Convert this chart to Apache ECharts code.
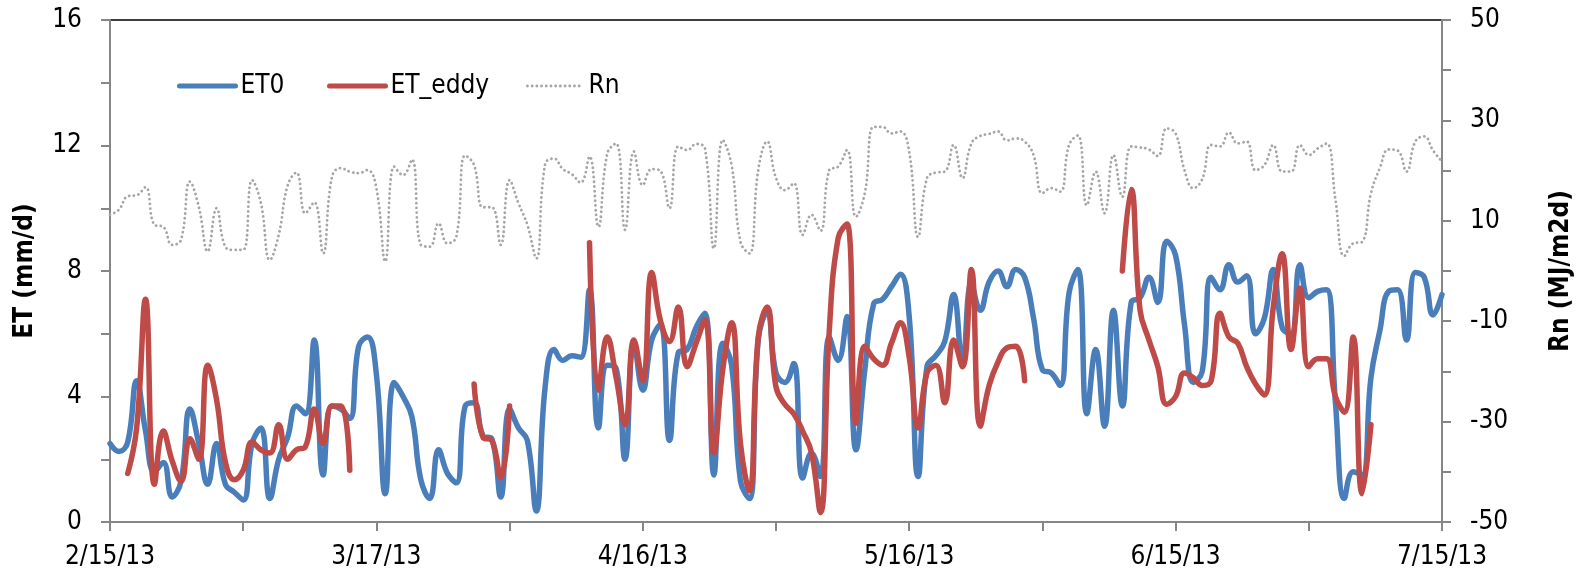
<!DOCTYPE html>
<html>
<head>
<meta charset="utf-8">
<script src="https://cdn.jsdelivr.net/npm/echarts@6/dist/echarts.min.js"></script>
<style>
html,body{margin:0;padding:0;background:#fff;}
#chart{width:1583px;height:575px;}
</style>
</head>
<body>
<div id="chart"></div>
<script>
// Daily dates from 2/15/13 to 7/15/13
const startDate = new Date(2013, 1, 15);
const dates = [];
for (let i = 0; i <= 150; i++) {
  const d = new Date(startDate.getFullYear(), startDate.getMonth(), startDate.getDate() + i);
  dates.push((d.getMonth() + 1) + '/' + d.getDate() + '/13');
}

const et0 = [
  2.5, 2.25, 2.55, 4.5, 2.9, 1.6, 1.9, 0.8, 1.3, 3.6,
  2.5, 1.2, 2.5, 1.2, 0.95, 0.7, 2.5, 3.0, 0.75, 2.0,
  2.7, 3.7, 3.45, 5.8, 1.5, 3.7, 3.6, 3.3, 5.6, 5.9,
  4.7, 0.9, 4.45, 4.0, 3.35, 1.35, 0.75, 2.3, 1.55, 1.25,
  3.7, 3.8, 2.75, 2.65, 0.8, 3.6, 3.0, 2.6, 0.35, 4.3,
  5.5, 5.15, 5.3, 5.25, 7.4, 3.0, 5.0, 4.9, 2.0, 5.75,
  4.2, 5.8, 6.3, 2.6, 5.4, 5.5, 6.2, 6.65, 1.5, 5.7,
  5.0, 1.3, 0.75, 5.8, 6.7, 4.75, 4.45, 5.05, 1.4, 2.2,
  1.45, 5.9, 5.15, 6.55, 2.3, 4.85, 6.95, 7.1, 7.5, 7.9,
  6.55, 1.45, 4.95, 5.3, 5.75, 7.25, 5.05, 7.6, 6.75, 7.65,
  8.0, 7.5, 8.05, 7.8, 6.5, 4.85, 4.75, 4.35, 7.3, 8.05,
  3.45, 5.5, 3.05, 6.75, 3.7, 7.0, 7.15, 7.8, 7.0, 8.95,
  8.5, 6.3, 4.45, 4.8, 7.8, 7.4, 8.2, 7.65, 7.85, 6.0,
  6.5, 8.05, 6.2, 6.0, 8.2, 7.15, 7.35, 7.4, 3.8, 0.75,
  1.6, 1.5, 4.6, 6.1, 7.35, 7.4, 5.8, 7.95, 7.8, 6.6,
  7.25
];

const etEddy = [
  null, null, 1.55, 3.0, 7.1, 1.2, 2.9, 1.95, 1.3, 2.65,
  2.0, 5.0, 3.9, 1.9, 1.35, 1.65, 2.55, 2.3, 2.2, 3.1,
  2.0, 2.3, 2.4, 3.6, 2.5, 3.7, 3.7, 1.65, null, null,
  null, null, null, null, null, null, null, null, null, null,
  null, 4.4, 2.7, 2.6, 1.4, 3.7, null, null, null, null,
  null, null, null, null, 8.9, 4.2, 5.9, 4.6, 3.1, 5.8,
  4.5, 7.95, 6.4, 5.75, 6.85, 4.95, 5.7, 6.45, 2.2, 4.85,
  6.35, 2.5, 1.0, 5.9, 6.85, 4.3, 3.75, 3.45, 2.9, 2.2,
  0.3, 6.1, 9.05, 9.5, 3.15, 5.6, 5.2, 5.0, 5.7, 6.35,
  5.25, 3.0, 4.75, 5.0, 3.8, 5.8, 4.95, 8.05, 3.05, 4.35,
  5.1, 5.55, 5.6, 4.5, null, null, null, null, null, null,
  null, null, null, null, 8.0, 10.6, 6.75, 5.8, 4.95, 3.75,
  4.0, 4.75, 4.6, 4.35, 4.5, 6.65, 5.9, 5.7, 4.95, 4.4,
  4.05, 6.85, 8.55, 5.5, 7.45, 4.95, 5.2, 5.2, 4.0, 3.5,
  5.9, 0.9, 3.1, null, null, null, null, null, null, null,
  null
];

const rn = [
  11.2, 12.2, 14.9, 15.1, 16.7, 9.2, 8.8, 5.2, 6.2, 17.8,
  12.8, 3.9, 12.5, 4.8, 4.2, 4.2, 18.1, 13.5, 2.2, 7.2,
  17.0, 19.6, 11.5, 13.7, 3.5, 18.8, 20.5, 19.8, 19.5, 20.1,
  16.5, 1.9, 20.8, 19.1, 22.2, 5.2, 4.85, 9.5, 5.5, 6.8,
  23.0, 21.1, 12.7, 12.7, 5.2, 18.1, 13.5, 9.2, 2.5, 21.3,
  22.4, 20.3, 19.3, 17.6, 22.8, 8.8, 23.4, 25.4, 8.2, 23.8,
  17.1, 20.3, 19.9, 12.5, 24.8, 24.1, 25.3, 24.4, 4.5, 26.1,
  21.1, 5.8, 3.5, 20.1, 25.8, 18.5, 16.1, 17.5, 7.2, 11.2,
  8.0, 20.1, 20.8, 24.1, 10.8, 15.5, 28.7, 28.7, 27.4, 27.8,
  23.8, 6.8, 18.5, 19.6, 19.8, 25.1, 18.5, 25.4, 26.9, 27.3,
  27.8, 26.0, 26.4, 25.8, 23.1, 15.5, 16.5, 15.8, 25.1, 27.0,
  13.1, 19.8, 11.5, 23.1, 14.8, 24.8, 24.6, 24.2, 22.9, 28.4,
  27.4, 20.1, 16.5, 18.3, 25.1, 24.8, 27.6, 25.4, 25.8, 20.1,
  21.1, 25.1, 19.8, 19.8, 25.1, 23.1, 24.4, 25.4, 14.2, 3.0,
  5.5, 5.8, 15.5, 20.5, 24.2, 24.0, 19.8, 25.8, 26.8, 24.0,
  21.8
];

const etTicksLabeled = [0, 4, 8, 12, 16];
const rnTicksLabeled = [-50, -30, -10, 10, 30, 50];

const FONT = "'DejaVu Sans Condensed', 'DejaVu Sans', sans-serif";
const AXIS_GREY = '#868686';
const C_ET0 = '#4a7ebb', C_EDDY = '#be4b48', C_RN = '#a6a6a6';

const chart = echarts.init(document.getElementById('chart'), null, {renderer: 'canvas'});

const legendText = {fontFamily: FONT, fontSize: 26, color: '#000'};
function mkLegend(name, left, lineStyle) {
  return {
    data: [name], left: left, top: 68, itemWidth: 56, itemHeight: 14,
    textStyle: legendText, selectedMode: false,
    itemStyle: {opacity: 0},
    lineStyle: lineStyle
  };
}

chart.setOption({
  animation: false,
  backgroundColor: '#fff',
  textStyle: {fontFamily: FONT},
  grid: {
    left: 110, right: 141, top: 20, bottom: 53,
    show: true, borderColor: '#000', borderWidth: 1.5, backgroundColor: 'transparent',
    containLabel: false, outerBoundsMode: 'none'
  },
  legend: [
    mkLegend('ET0', 172, {color: C_ET0, width: 5, cap: 'round'}),
    mkLegend('ET_eddy', 322, {color: C_EDDY, width: 5, cap: 'round'}),
    mkLegend('Rn', 521, {color: C_RN, width: 2.8, type: [0.1, 4.6], cap: 'round'})
  ],
  xAxis: {
    type: 'category',
    data: dates,
    boundaryGap: false,
    axisLine: {lineStyle: {color: AXIS_GREY, width: 2}},
    axisTick: {show: true, interval: (i) => i % 15 === 0, length: 9, lineStyle: {color: AXIS_GREY, width: 2}},
    axisLabel: {interval: (i) => i % 30 === 0, fontFamily: FONT, fontSize: 26, color: '#000', margin: 22},
    splitLine: {show: false}
  },
  yAxis: [
    {
      type: 'value', min: 0, max: 16, interval: 2, position: 'left',
      name: 'ET (mm/d)', nameLocation: 'middle', nameGap: 72, nameRotate: 90,
      nameTextStyle: {fontFamily: FONT, fontSize: 26, fontWeight: 'bold', color: '#000'},
      axisLine: {show: true, lineStyle: {color: AXIS_GREY, width: 2}},
      axisTick: {show: true, length: 9, lineStyle: {color: AXIS_GREY, width: 2}},
      axisLabel: {
        fontFamily: FONT, fontSize: 26, color: '#000', margin: 28,
        formatter: (v) => etTicksLabeled.indexOf(v) >= 0 ? String(v) : ''
      },
      splitLine: {show: false}
    },
    {
      type: 'value', min: -50, max: 50, interval: 10, position: 'right',
      name: 'Rn (MJ/m2d)', nameLocation: 'middle', nameGap: 106, nameRotate: 90,
      nameTextStyle: {fontFamily: FONT, fontSize: 26, fontWeight: 'bold', color: '#000'},
      axisLine: {show: true, lineStyle: {color: AXIS_GREY, width: 2}},
      axisTick: {show: true, length: 9, lineStyle: {color: AXIS_GREY, width: 2}},
      axisLabel: {
        fontFamily: FONT, fontSize: 26, color: '#000', margin: 28,
        formatter: (v) => rnTicksLabeled.indexOf(v) >= 0 ? String(v) : ''
      },
      splitLine: {show: false}
    }
  ],
  series: [
    {
      name: 'ET0', type: 'line', yAxisIndex: 0, data: et0,
      symbol: 'none', smooth: 0.45,
      lineStyle: {color: C_ET0, width: 5.5, cap: 'round', join: 'round'},
      itemStyle: {color: C_ET0},
      emphasis: {disabled: true}
    },
    {
      name: 'ET_eddy', type: 'line', yAxisIndex: 0, data: etEddy,
      symbol: 'none', smooth: 0.45, connectNulls: false,
      lineStyle: {color: C_EDDY, width: 5.5, cap: 'round', join: 'round'},
      itemStyle: {color: C_EDDY},
      emphasis: {disabled: true}
    },
    {
      name: 'Rn', type: 'line', yAxisIndex: 1, data: rn,
      symbol: 'none', smooth: 0.45,
      lineStyle: {color: C_RN, width: 2.8, type: [0.1, 4.6], cap: 'round'},
      itemStyle: {color: C_RN},
      emphasis: {disabled: true}
    }
  ]
});
</script>
</body>
</html>
